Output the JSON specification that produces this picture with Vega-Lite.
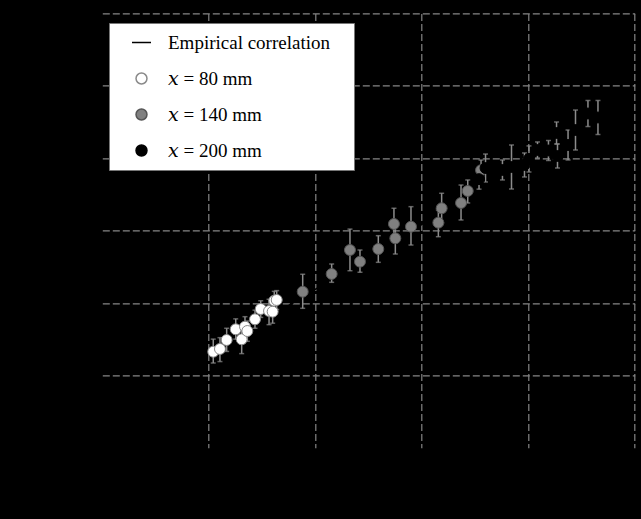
{
  "$schema": "https://vega.github.io/schema/vega-lite/v6.json",
  "autosize": {"type": "none"},
  "padding": {"left": 102.3, "top": 13.4, "right": 6.3, "bottom": 71.3},
  "width": 532.4,
  "height": 434.3,
  "background": "black",
  "config": {"view": {"stroke": null}},
  "datasets": {
    "emp": [
      {"x": 1.0, "y": 1.294},
      {"x": 4.8, "y": 4.693}
    ],
    "pts": [
      {"series": "x = 80 mm", "x": 1.042, "y": 1.326, "lo": 1.17, "hi": 1.50},
      {"series": "x = 80 mm", "x": 1.105, "y": 1.364, "lo": 1.19, "hi": 1.52},
      {"series": "x = 80 mm", "x": 1.168, "y": 1.488, "lo": 1.33, "hi": 1.65},
      {"series": "x = 80 mm", "x": 1.253, "y": 1.636, "lo": 1.50, "hi": 1.78},
      {"series": "x = 80 mm", "x": 1.309, "y": 1.498, "lo": 1.30, "hi": 1.66},
      {"series": "x = 80 mm", "x": 1.340, "y": 1.672, "lo": 1.53, "hi": 1.81},
      {"series": "x = 80 mm", "x": 1.362, "y": 1.612, "lo": 1.47, "hi": 1.75},
      {"series": "x = 80 mm", "x": 1.434, "y": 1.774, "lo": 1.65, "hi": 1.90},
      {"series": "x = 80 mm", "x": 1.488, "y": 1.916, "lo": 1.80, "hi": 2.03},
      {"series": "x = 80 mm", "x": 1.566, "y": 1.889, "lo": 1.70, "hi": 2.05},
      {"series": "x = 80 mm", "x": 1.600, "y": 1.879, "lo": 1.72, "hi": 2.04},
      {"series": "x = 80 mm", "x": 1.615, "y": 2.031, "lo": 1.90, "hi": 2.16},
      {"series": "x = 80 mm", "x": 1.638, "y": 2.041, "lo": 1.91, "hi": 2.17},
      {"series": "x = 140 mm", "x": 1.882, "y": 2.155, "lo": 1.926, "hi": 2.396},
      {"series": "x = 140 mm", "x": 2.154, "y": 2.400, "lo": 2.285, "hi": 2.538},
      {"series": "x = 140 mm", "x": 2.326, "y": 2.731, "lo": 2.445, "hi": 3.020},
      {"series": "x = 140 mm", "x": 2.420, "y": 2.570, "lo": 2.423, "hi": 2.731},
      {"series": "x = 140 mm", "x": 2.592, "y": 2.745, "lo": 2.561, "hi": 2.929},
      {"series": "x = 140 mm", "x": 2.739, "y": 3.091, "lo": 2.870, "hi": 3.308},
      {"series": "x = 140 mm", "x": 2.752, "y": 2.893, "lo": 2.676, "hi": 3.118},
      {"series": "x = 140 mm", "x": 2.899, "y": 3.053, "lo": 2.800, "hi": 3.330},
      {"series": "x = 140 mm", "x": 3.156, "y": 3.109, "lo": 2.915, "hi": 3.284},
      {"series": "x = 140 mm", "x": 3.187, "y": 3.308, "lo": 3.104, "hi": 3.515},
      {"series": "x = 140 mm", "x": 3.369, "y": 3.381, "lo": 3.146, "hi": 3.629},
      {"series": "x = 140 mm", "x": 3.432, "y": 3.547, "lo": 3.381, "hi": 3.699},
      {"series": "x = 140 mm", "x": 3.557, "y": 3.834, "lo": 3.694, "hi": 3.974},
      {"series": "x = 200 mm", "x": 3.538, "y": 3.710, "lo": 3.572, "hi": 3.848},
      {"series": "x = 200 mm", "x": 3.599, "y": 3.864, "lo": 3.671, "hi": 4.057},
      {"series": "x = 200 mm", "x": 3.758, "y": 3.837, "lo": 3.699, "hi": 3.975},
      {"series": "x = 200 mm", "x": 3.843, "y": 3.878, "lo": 3.574, "hi": 4.182},
      {"series": "x = 200 mm", "x": 3.965, "y": 3.906, "lo": 3.740, "hi": 4.072},
      {"series": "x = 200 mm", "x": 4.007, "y": 3.989, "lo": 3.809, "hi": 4.169},
      {"series": "x = 200 mm", "x": 4.087, "y": 4.113, "lo": 4.002, "hi": 4.224},
      {"series": "x = 200 mm", "x": 4.190, "y": 4.106, "lo": 3.968, "hi": 4.244},
      {"series": "x = 200 mm", "x": 4.266, "y": 4.348, "lo": 4.196, "hi": 4.500},
      {"series": "x = 200 mm", "x": 4.275, "y": 4.030, "lo": 3.864, "hi": 4.196},
      {"series": "x = 200 mm", "x": 4.374, "y": 4.182, "lo": 3.975, "hi": 4.389},
      {"series": "x = 200 mm", "x": 4.444, "y": 4.389, "lo": 4.113, "hi": 4.665},
      {"series": "x = 200 mm", "x": 4.561, "y": 4.617, "lo": 4.437, "hi": 4.797},
      {"series": "x = 200 mm", "x": 4.655, "y": 4.562, "lo": 4.327, "hi": 4.797}
    ]
  },
  "encoding": {
    "x": {
      "field": "x", "type": "quantitative",
      "scale": {"domain": [0, 5], "nice": false, "zero": false},
      "axis": {"title": null, "labels": false, "ticks": false, "domain": false, "values": [1, 2, 3, 4, 5],
               "grid": true, "gridColor": "#858585", "gridDash": [7, 3], "gridWidth": 1.2, "gridOpacity": 1}
    },
    "y": {
      "field": "y", "type": "quantitative",
      "scale": {"domain": [0, 6], "nice": false, "zero": false},
      "axis": {"title": null, "labels": false, "ticks": false, "domain": false, "values": [1, 2, 3, 4, 5, 6],
               "grid": true, "gridColor": "#858585", "gridDash": [7, 3], "gridWidth": 1.2, "gridOpacity": 1}
    }
  },
  "layer": [
    {
      "data": {"name": "emp"},
      "mark": {"type": "line", "color": "black", "strokeWidth": 1.5},
      "encoding": {}
    },
    {
      "data": {"name": "pts"},
      "mark": {"type": "errorbar", "ticks": true, "color": "#8c8c8c", "size": 5, "thickness": 1.5},
      "encoding": {
        "y": {"field": "lo", "type": "quantitative"},
        "y2": {"field": "hi"}
      }
    },
    {
      "data": {"name": "pts"},
      "mark": {"type": "point", "filled": true, "opacity": 1, "strokeWidth": 1},
      "encoding": {
        "fill": {
          "field": "series", "type": "nominal",
          "scale": {"domain": ["Empirical correlation", "x = 80 mm", "x = 140 mm", "x = 200 mm"],
                    "range": ["black", "white", "#808080", "black"]},
          "legend": {
            "title": null,
            "orient": "none", "legendX": 6.7, "legendY": 9.6,
            "fillColor": "white", "strokeColor": "#777777",
            "padding": 9, "rowPadding": 16,
            "labelFont": "Liberation Serif, DejaVu Serif", "labelFontSize": 19, "labelColor": "black",
            "labelLimit": 400,
            "labelOffset": 16, "symbolOffset": 13, "symbolStrokeWidth": 1.5,
            "labelExpr": "datum.label == 'Empirical correlation' ? datum.label + '\u2002\u2005\u200b' : replace(datum.label, 'x', '𝑥')"
          }
        },
        "stroke": {
          "field": "series", "type": "nominal",
          "scale": {"domain": ["Empirical correlation", "x = 80 mm", "x = 140 mm", "x = 200 mm"],
                    "range": ["black", "#8a8a8a", "#555555", "black"]}
        },
        "shape": {
          "field": "series", "type": "nominal",
          "scale": {"domain": ["Empirical correlation", "x = 80 mm", "x = 140 mm", "x = 200 mm"],
                    "range": ["stroke", "circle", "circle", "circle"]}
        },
        "size": {
          "field": "series", "type": "nominal",
          "scale": {"type": "ordinal", "domain": ["Empirical correlation", "x = 80 mm", "x = 140 mm", "x = 200 mm"],
                    "range": [361, 120, 120, 120]}
        }
      }
    }
  ]
}
